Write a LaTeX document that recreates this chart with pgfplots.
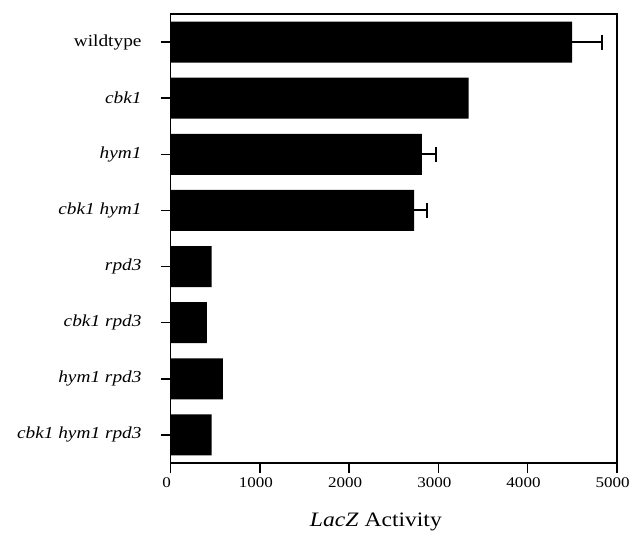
\documentclass[border=0pt]{standalone}
\usepackage{fontspec}
\setmainfont{Liberation Serif}[FakeStretch=1.15]
\usepackage{pgfplots}
\usepackage{pgfplotstable}
\pgfplotsset{compat=1.18}
\pgfplotstableread{
y x
0 4500
1 3340
2 2815
3 2730
4 460
5 405
6 585
7 460
}\bardata
% error bar end points (mean + SD) and SD
\pgfplotstableread{
y xend err
0 4830 330
2 2975 160
3 2870 140
}\errdata
\begin{document}
\begin{tikzpicture}
\begin{axis}[name=ax, scale only axis, width=446pt, height=449pt,
  xmin=0, xmax=5000, ymin=-0.5, ymax=7.5, y dir=reverse,
  xtick={0,1000,2000,3000,4000,5000}, ytick={0,1,2,3,4,5,6,7},
  yticklabels={wildtype, \textit{cbk1}, \textit{hym1}, \textit{cbk1 hym1}\hspace{7pt}, \textit{rpd3}, \textit{cbk1 rpd3}, \textit{hym1 rpd3}, \textit{cbk1 hym1 rpd3}},
  tick align=outside, xtick pos=bottom, ytick pos=left,
  major tick length=10pt,
  axis line style={line width=1.6pt},
  every tick/.style={line width=1.6pt, black},
  /pgf/number format/assume math mode=true,
  /pgf/number format/1000 sep={},
  scaled x ticks=false,
  xticklabel style={font=\fontsize{14.8}{17}\selectfont, inner sep=4pt, xshift=-4pt},
  yticklabel style={font=\fontsize{16.8}{19}\selectfont, inner sep=13pt, xshift=-6pt},
  xlabel={\textit{LacZ} Activity},
  xlabel style={font=\fontsize{20.5}{24}\selectfont, at={(axis description cs:0.46,0)}, anchor=north, yshift=-46pt},
  clip=false,
]
\addplot[xbar, bar shift=0pt, bar width=41pt, fill=black, draw=none]
  table[x=x, y=y]{\bardata};
\addplot[only marks, mark=|, mark size=7.5pt, mark options={line width=2pt, black}, forget plot,
  error bars/.cd, x dir=minus, x explicit, error mark=none,
  error bar style={line width=2pt, black}]
  table[x=xend, y=y, x error=err]{\errdata};
\end{axis}
\pgfresetboundingbox
\path ([shift={(-170.7pt,-74.3pt)}]ax.south west) rectangle ([shift={(14.3pt,14pt)}]ax.north east);
\end{tikzpicture}
\end{document}
